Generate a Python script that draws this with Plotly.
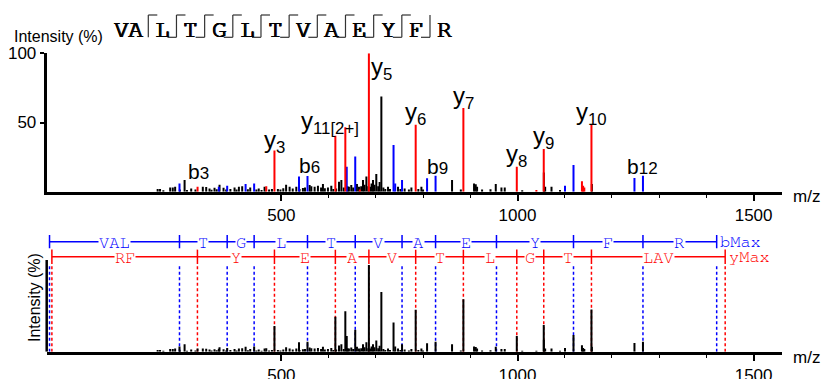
import plotly.graph_objects as go

# ---------------- data ----------------
sequence = ["V", "A", "L", "T", "G", "L", "T", "V", "A", "E", "Y", "F", "R"]
# fragment marks between residues 2|3 ... 12|13 (top = y ion, bottom = b ion)
sep_y_obs = [1, 1, 1, 1, 1, 1, 1, 1, 1, 1, 0]
sep_b_obs = [0, 1, 1, 1, 1, 1, 1, 1, 1, 1, 1]

y_ion_mz = [322.5, 468.0, 485.3, 614.3, 635.4, 666.0, 685.3, 784.4, 885.4, 998.5,
            1040.0, 1055.6, 1136.5, 1139.0, 1141.5, 1156.6]
y_ion_int = [3.6, 4.0, 29.7, 40.4, 46.6, 1.5, 100.0, 48.3, 60.4, 18.1,
             1.2, 30.9, 7.5, 4.3, 3.0, 48.8]

b_ion_mz = [284.2, 367.5, 385.2, 424.2, 442.3, 537.3, 555.3, 638.4, 656.4, 737.5,
            741.0, 755.5, 808.5, 826.5, 1100.6, 1118.6, 1247.7, 1265.7]
b_ion_int = [6.0, 3.5, 4.3, 5.6, 6.0, 10.9, 11.4, 18.1, 25.4, 33.8,
             6.0, 8.5, 9.7, 11.6, 4.3, 19.3, 9.9, 11.6]

other_mz = [238, 243, 250, 264.5, 270, 275, 285, 295, 300, 309, 318, 333.6, 340.8, 347.8,
            352, 358.4, 363, 369, 377.5, 383, 392, 400.8, 405, 410, 417, 429, 434, 447,
            452, 458, 464.4, 474, 480, 492.6, 498, 504, 510, 517.4, 524, 531.6, 538.5,
            545.6, 550, 559.8, 563.4, 570.4, 577.4, 584, 588, 592, 598.6, 605.7, 610,
            616, 622, 627, 632, 640, 643, 648, 652, 660, 664.3, 669, 672.8, 676, 680,
            684, 688.4, 691, 694, 697, 701, 705, 708, 711.7, 716, 720, 725.8, 730, 747,
            752, 761, 770, 775.3, 790, 796.5, 800, 861.4, 880, 908, 911.6, 914.4, 925,
            942.8, 954, 966, 973, 1010, 1055.8, 1058.6, 1072, 1090, 1157.5]
other_int = [2, 2, 1, 3, 3, 3.6, 1.5, 8.5, 1.2, 2.4, 1.5, 3.6, 3.4, 2.4,
             1.4, 2.9, 1.8, 5, 2.9, 1.5, 2, 3, 1.5, 3.6, 4, 1.8, 3, 1.5,
             2.4, 1.2, 3.6, 1.5, 2, 2, 1.5, 2.5, 5, 3.6, 2.4, 3.6, 2,
             2.7, 3, 4.8, 4, 3.6, 4.3, 3, 5.6, 2.5, 3, 4.3, 2,
             2.4, 7.2, 8.5, 3, 4, 3.6, 4.8, 3, 5.6, 3.6, 4, 8.5, 5, 10.9,
             4, 3.6, 6, 8.5, 5, 12.8, 4, 7, 68.8, 3, 2, 3.6, 2, 3.6,
             2, 2.4, 1.5, 3, 2, 3.6, 1.5, 8.5, 1.5, 6, 5.3, 3.6, 1.5,
             1.7, 5.6, 3.1, 3.1, 1, 13.8, 3.6, 3.6, 1.2, 5.6]

label_text = ["b3", "y3", "b6", "y11[2+]", "y5", "y6", "y7", "y8", "y9", "y10", "b9", "b12"]
label_mz = [284.2, 485.3, 555.3, 635.4, 685.3, 784.4, 885.4, 998.5, 1055.6, 1156.6, 826.5, 1265.7]
label_int = [6.0, 29.7, 11.4, 46.6, 100.0, 48.3, 60.4, 18.1, 30.9, 48.8, 11.6, 11.6]

ladder_b_mz = [9, 284.2, 385.2, 442.3, 555.3, 656.4, 755.5, 826.5, 955.5, 1118.6, 1265.7, 1421.8]
ladder_b_lab = ["VAL", "T", "G", "L", "T", "V", "A", "E", "Y", "F", "R"]
ladder_y_mz = [14, 322.2, 485.3, 614.3, 685.3, 784.4, 885.4, 998.5, 1055.6, 1156.6, 1439.8]
ladder_y_lab = ["RF", "Y", "E", "A", "V", "T", "L", "G", "T", "LAV"]

x_ticks = [500, 1000, 1500]
x_minor = [600, 700, 800, 900, 1100, 1200, 1300, 1400]
y_ticks = [50, 100]

# ---------------- style / layout constants ----------------
W, H = 821, 379
RED = "#ff0000"
BLUE = "#0000ff"
SANS = "Liberation Sans, Arial, sans-serif"
MONO = "FreeMono, Courier New, monospace"

def px_x(p):
    return p / W

def px_y(p):
    return (H - p) / H

XDOM = [px_x(46.7), px_x(781.7)]
XRANGE = [3, 1559.5]
YDOM1 = [px_y(191.7), px_y(53.3)]
YDOM2 = [px_y(351.7), px_y(230.3)]
Y2RANGE = [0, 140]
B_LINE, B_HALF = 126.9, 7.7
Y_LINE, Y_HALF = 109.6, 8.4
DASH_TOP = 101.2
Y2_AXIS_TOP = 105.7

label_shift = {
    "b3": (19, 12), "y3": (0, 9), "b6": (1.5, 10), "y11[2+]": (-15, 4.5),
    "y5": (13, -15), "y6": (0, 11.5), "y7": (0, 11), "y8": (0, 11.5),
    "y9": (0, 11), "y10": (0, 11), "b9": (2, 9.5), "b12": (0, 9.5),
}


def sticks(xs, lo, hi):
    X, Y = [], []
    for i, x in enumerate(xs):
        a = lo[i] if isinstance(lo, list) else lo
        b = hi[i] if isinstance(hi, list) else hi
        X += [x, x, None]
        Y += [a, b, None]
    return X, Y


fig = go.Figure()

# ---- top spectrum ----
for mz, it, col in [(other_mz, other_int, "black"), (b_ion_mz, b_ion_int, BLUE),
                    (y_ion_mz, y_ion_int, RED)]:
    X, Y = sticks(mz, 0, it)
    fig.add_trace(go.Scatter(x=X, y=Y, mode="lines", line=dict(color=col, width=2),
                             xaxis="x", yaxis="y", hoverinfo="skip", showlegend=False))

# ---- bottom: dashed lines ----
X, Y = sticks(ladder_b_mz, 0, DASH_TOP)
fig.add_trace(go.Scatter(x=X, y=Y, mode="lines", line=dict(color=BLUE, width=1.5, dash="3px,2.5px"),
                         xaxis="x2", yaxis="y2", hoverinfo="skip", showlegend=False))
X, Y = sticks(ladder_y_mz, 0, DASH_TOP)
fig.add_trace(go.Scatter(x=X, y=Y, mode="lines", line=dict(color=RED, width=1.5, dash="3px,2.5px"),
                         xaxis="x2", yaxis="y2", hoverinfo="skip", showlegend=False))

# ---- ladders ----
for mzs, yl, half, col in [(ladder_b_mz, B_LINE, B_HALF, BLUE), (ladder_y_mz, Y_LINE, Y_HALF, RED)]:
    fig.add_trace(go.Scatter(x=[mzs[0], mzs[-1]], y=[yl, yl], mode="lines",
                             line=dict(color=col, width=1.5), xaxis="x2", yaxis="y2",
                             hoverinfo="skip", showlegend=False))
    X, Y = sticks(mzs, yl - half, yl + half)
    fig.add_trace(go.Scatter(x=X, y=Y, mode="lines", line=dict(color=col, width=1.5),
                             xaxis="x2", yaxis="y2", hoverinfo="skip", showlegend=False))

# ---- bottom spectrum (all black) ----
all_mz = other_mz + b_ion_mz + y_ion_mz
all_int = other_int + b_ion_int + y_ion_int
X, Y = sticks(all_mz, 0, all_int)
fig.add_trace(go.Scatter(x=X, y=Y, mode="lines", line=dict(color="black", width=2),
                         xaxis="x2", yaxis="y2", hoverinfo="skip", showlegend=False))

annotations = []

# peak labels
for t, mz, it in zip(label_text, label_mz, label_int):
    dx, dy = label_shift[t]
    if t.startswith("y"):
        txt = "y<sub>%s</sub>" % t[1:]
        fnt = dict(family=SANS, size=24, color="black")
    else:
        txt = "b<span style='font-size:17px'>%s</span>" % t[1:]
        fnt = dict(family=SANS, size=21, color="black")
    annotations.append(dict(x=mz, y=it, xref="x", yref="y", text=txt, showarrow=False,
                            xanchor="center", yanchor="middle", xshift=dx, yshift=dy, font=fnt))

# ladder labels
for mzs, labs, yl, col, endtxt, endshift in [(ladder_b_mz, ladder_b_lab, B_LINE, BLUE, "bMax", 1),
                                            (ladder_y_mz, ladder_y_lab, Y_LINE, RED, "yMax", 2)]:
    for i, lab in enumerate(labs):
        annotations.append(dict(x=(mzs[i] + mzs[i + 1]) / 2, y=yl, xref="x2", yref="y2",
                                text=lab, showarrow=False, xanchor="center", yanchor="middle",
                                bgcolor="white", borderpad=0, height=14, yshift=0,
                                font=dict(family=MONO, size=17, color=col)))
    annotations.append(dict(x=mzs[-1], y=yl, xref="x2", yref="y2", text=endtxt, showarrow=False,
                            xanchor="left", yanchor="middle", xshift=endshift, yshift=0,
                            font=dict(family=MONO, size=17, color=col)))

# titles
annotations.append(dict(x=px_x(12), y=px_y(36), xref="paper", yref="paper", text="Intensity (%)",
                        showarrow=False, xanchor="left", yanchor="middle",
                        font=dict(family=SANS, size=16, color="black")))
annotations.append(dict(x=px_x(34), y=px_y(298), xref="paper", yref="paper", text="Intensity (%)",
                        showarrow=False, xanchor="center", yanchor="middle", textangle=-90,
                        font=dict(family=SANS, size=16, color="black")))
for yy in (196, 357):
    annotations.append(dict(x=px_x(791), y=px_y(yy), xref="paper", yref="paper", text="m/z",
                            showarrow=False, xanchor="left", yanchor="middle",
                            font=dict(family=SANS, size=17, color="black")))

# sequence with fragment marks
SEP0, PITCH = 148.3, 28.17
SEQ_Y = 30
seq_font = dict(family=MONO, size=24, color="black",
                shadow="0.9px 0 0 black, -0.6px 0 0 black, 0.3px 0.4px 0 black, -0.3px -0.4px 0 black")
annotations.append(dict(x=px_x(SEP0 - 20), y=px_y(SEQ_Y), xref="paper", yref="paper",
                        text="".join(sequence[:2]), showarrow=False,
                        xanchor="center", yanchor="middle", font=seq_font))
for k, aa in enumerate(sequence[2:]):
    annotations.append(dict(x=px_x(SEP0 + 14 + k * PITCH), y=px_y(SEQ_Y), xref="paper", yref="paper",
                            text=aa, showarrow=False, xanchor="center",
                            yanchor="middle", font=seq_font))

shapes = []
TOP, BOT, ARM = 15, 37.3, 9
for k in range(len(sep_y_obs)):
    xs = SEP0 + k * PITCH
    shapes.append(dict(type="line", xref="paper", yref="paper", x0=px_x(xs), x1=px_x(xs),
                       y0=px_y(TOP), y1=px_y(BOT), line=dict(color="#333333", width=1.2)))
    if sep_y_obs[k]:
        shapes.append(dict(type="line", xref="paper", yref="paper", x0=px_x(xs), x1=px_x(xs + ARM),
                           y0=px_y(TOP), y1=px_y(TOP), line=dict(color="#333333", width=1.2)))
    if sep_b_obs[k]:
        shapes.append(dict(type="line", xref="paper", yref="paper", x0=px_x(xs - ARM), x1=px_x(xs),
                           y0=px_y(BOT), y1=px_y(BOT), line=dict(color="#333333", width=1.2)))

# bottom y-axis line (only up to the spectrum region)
shapes.append(dict(type="line", xref="paper", yref="y2", x0=XDOM[0], x1=XDOM[0], y0=0, y1=Y2_AXIS_TOP,
                   line=dict(color="black", width=2.5)))

xaxis_common = dict(domain=XDOM, range=XRANGE, showgrid=False, zeroline=False, showline=True,
                    automargin=False,
                    linecolor="black", linewidth=3, ticks="outside", ticklen=6, tickwidth=1.5,
                    tickcolor="black", tickvals=x_ticks,
                    tickfont=dict(family=SANS, size=17, color="black"),
                    minor=dict(tickvals=x_minor, ticks="outside", ticklen=3, tickwidth=1.2,
                               tickcolor="black"))

fig.update_layout(
    template="none",
    width=W, height=H, margin=dict(l=0, r=0, t=0, b=0, pad=0, autoexpand=False),
    paper_bgcolor="white", plot_bgcolor="white", showlegend=False,
    xaxis=dict(anchor="y", **xaxis_common),
    xaxis2=dict(anchor="y2", **xaxis_common),
    yaxis=dict(domain=YDOM1, range=[0, 100], anchor="x", showgrid=False, zeroline=False,
               automargin=False,
               showline=True, linecolor="black", linewidth=3, ticks="outside", ticklen=4,
               tickwidth=1.5, tickcolor="black", tickvals=y_ticks,
               tickfont=dict(family=SANS, size=17, color="black")),
    yaxis2=dict(domain=YDOM2, range=Y2RANGE, anchor="x2", showgrid=False, zeroline=False,
                automargin=False,
                showline=False, showticklabels=False, ticks=""),
    annotations=annotations, shapes=shapes,
)

fig.write_html("out.html", config={"displayModeBar": False},
               post_script="document.body.style.margin='0';document.body.style.overflow='hidden';")
